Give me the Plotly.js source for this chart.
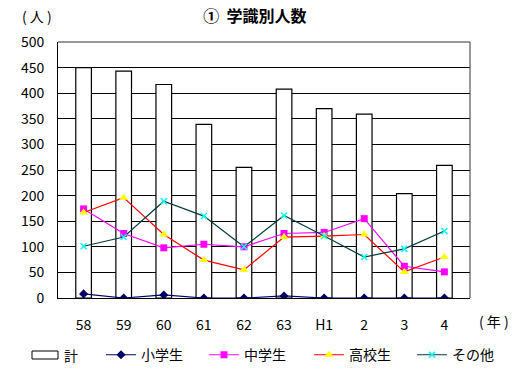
<!DOCTYPE html>
<html><head><meta charset="utf-8">
<script src="https://cdn.plot.ly/plotly-3.0.1.min.js"></script>
<style>body{margin:0;background:#fff}#c{width:518px;height:392px}</style>
</head><body><div id="c"></div>
<script>
const years = ["58","59","60","61","62","63","H1","2","3","4"];
const total = [450, 443, 417, 339, 255, 408, 370, 359, 204, 259];
const elementary = [8, 0, 6, 0, 0, 4, 0, 0, 0, 0];
const juniorHigh = [174, 126, 98, 105, 100, 126, 128, 155, 62, 51];
const highSchool = [167, 196, 124, 74, 55, 119, 121, 124, 51, 80];
const others = [101, 119, 189, 160, 100, 161, 121, 80, 96, 131];
const yTicks = [0,50,100,150,200,250,300,350,400,450,500];

const F = '"Noto Sans CJK JP", "Liberation Sans", sans-serif';
const traces = [
  {type:'bar', name:'計', x:years, y:total, showlegend:false, marker:{color:'#ffffff', line:{color:'#000000', width:1.2}}},
  {type:'scatter', mode:'lines+markers', name:'小学生', legend:'legend', x:years, y:elementary,
   line:{color:'#000066', width:1.2}, marker:{symbol:'diamond', size:7, color:'#000066'}},
  {type:'scatter', mode:'lines+markers', name:'中学生', legend:'legend', x:years, y:juniorHigh,
   line:{color:'#ff00ff', width:1.2}, marker:{symbol:'square', size:7, color:'#ff00ff'}},
  {type:'scatter', mode:'lines+markers', name:'高校生', legend:'legend2', x:years, y:highSchool,
   line:{color:'#ff0000', width:1.2}, marker:{symbol:'triangle-up', size:8, color:'#ffff00'}},
  {type:'scatter', mode:'lines+markers', name:'その他', legend:'legend2', x:years, y:others,
   line:{color:'#003c3c', width:1.2}, marker:{symbol:'x-thin', size:6, color:'#00ffff', line:{color:'#00ffff', width:1.5}}}
];
const legBase = {orientation:'h', xref:'container', yref:'container', xanchor:'left', y:0.094, yanchor:'middle',
  entrywidth:58, itemwidth:30, bgcolor:'rgba(0,0,0,0)', font:{family:F, size:14}, traceorder:'normal'};
const layout = {
  width:518, height:392, paper_bgcolor:'#fff', plot_bgcolor:'#fff',
  margin:{l:58, r:48, t:42, b:94, autoexpand:false},
  font:{family:F, size:14, color:'#000'},
  title:{text:'①  学識別人数', x:0.492, xanchor:'center', y:0.957, yanchor:'middle', font:{family:F, size:16, color:'#000', weight:'bold'}},
  bargap:0.61,
  showlegend:true,
  legend:Object.assign({}, legBase, {x:101/518}),
  legend2:Object.assign({}, legBase, {x:309/518}),
  xaxis:{type:'category', categoryorder:'array', categoryarray:years, showline:true, linecolor:'#000', linewidth:1,
         mirror:false, ticks:'', ticklabelstandoff:14, showgrid:false, tickfont:{family:F, size:14}, zeroline:false},
  yaxis:{range:[0,500], tickvals:yTicks, ticktext:yTicks.map(String), showline:true, linecolor:'#000', linewidth:1,
         showgrid:true, gridcolor:'#000', gridwidth:1, ticks:'', ticklabelstandoff:10, zeroline:false, tickfont:{family:F, size:14}},
  shapes:[
    {type:'line', xref:'paper', yref:'paper', x0:0, x1:1, y0:1, y1:1, line:{color:'#333', width:1}},
    {type:'line', xref:'paper', yref:'paper', x0:1, x1:1, y0:0, y1:1, line:{color:'#333', width:1}},
    {type:'rect', xref:'paper', yref:'paper', x0:(32-58)/412, x1:(58-58)/412, y0:(298-359)/256, y1:(298-351)/256,
     line:{color:'#000', width:1}, fillcolor:'#fff'}
  ],
  annotations:[
    {text:'( 人 )', xref:'paper', yref:'paper', x:(20-58)/412, y:1.1, xanchor:'left', yanchor:'middle', showarrow:false, font:{family:F, size:14}},
    {text:'( 年 )', xref:'paper', yref:'paper', x:(477-58)/412, y:-0.09, xanchor:'left', yanchor:'middle', showarrow:false, font:{family:F, size:14}},
    {text:'計', xref:'paper', yref:'paper', x:(62-58)/412, y:(298-355)/256, xanchor:'left', yanchor:'middle', showarrow:false, font:{family:F, size:14}}
  ]
};
Plotly.newPlot('c', traces, layout, {staticPlot:true, displayModeBar:false});
</script></body></html>
